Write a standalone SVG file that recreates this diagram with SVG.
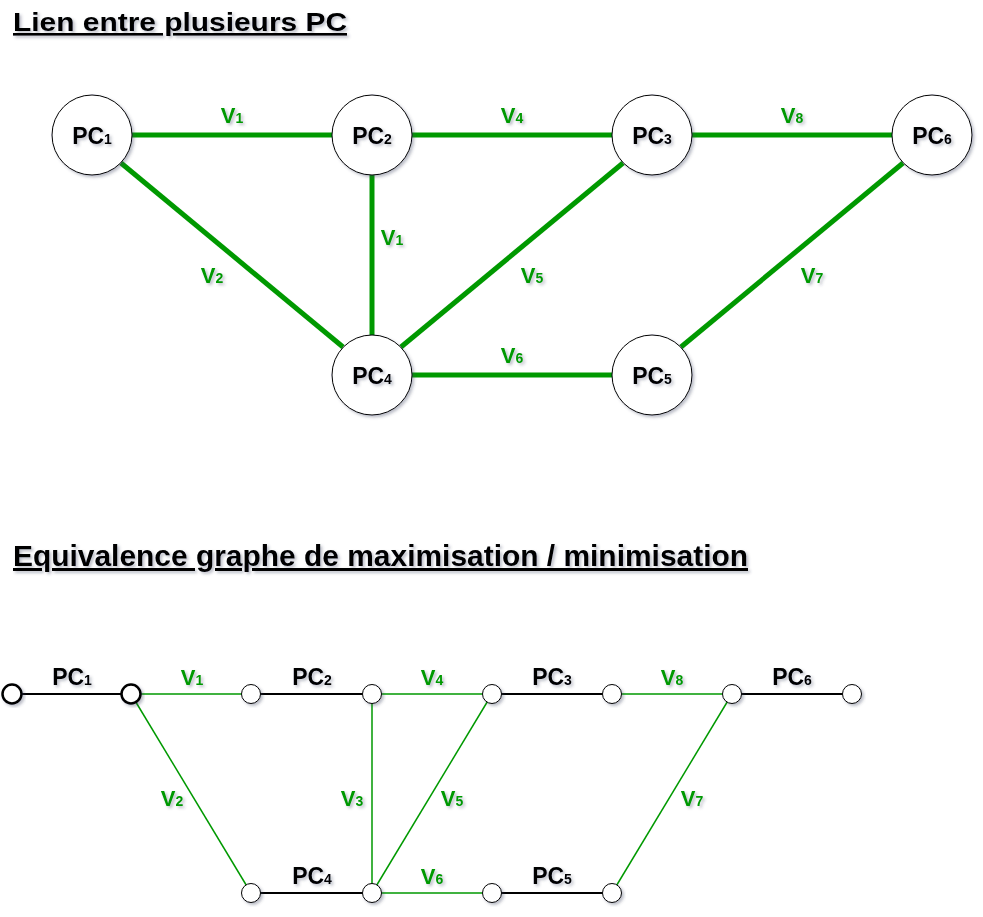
<svg xmlns="http://www.w3.org/2000/svg" width="983" height="917" viewBox="0 0 983 917">
<defs>
<filter id="sh" x="-20%" y="-20%" width="140%" height="140%">
<feDropShadow dx="2" dy="2" stdDeviation="1.5" flood-color="#3a4060" flood-opacity="0.35"/>
</filter>
<style>
text{font-family:"Liberation Sans",Arial,sans-serif;font-weight:bold;filter:url(#sh)}
.title{font-size:26px;fill:#000;text-decoration:underline}
.t2{font-size:30px}
.pc{font-size:23px;fill:#000;text-anchor:middle}
.v{font-size:22px;fill:#009900;text-anchor:middle}
.sub{font-size:14px}
.big{fill:#fff;stroke:#000;stroke-width:1;filter:url(#sh)}
.sm{fill:#fff;stroke:#000;stroke-width:1;filter:url(#sh)}
.smb{fill:#fff;stroke:#000;stroke-width:2.5;filter:url(#sh)}
.g{stroke:#009900;stroke-width:5;fill:none}
.gt{stroke:#009900;stroke-width:1.5;fill:none}
.k{stroke:#000;stroke-width:2;fill:none}
</style>
</defs>
<rect width="983" height="917" fill="#fff"/>
<text class="title" x="13" y="31" textLength="334" lengthAdjust="spacingAndGlyphs">Lien entre plusieurs PC</text>
<text class="title t2" x="13" y="566" textLength="735" lengthAdjust="spacingAndGlyphs">Equivalence graphe de maximisation / minimisation</text>

<g id="connectors-top">
<line class="g" x1="132" y1="135" x2="332" y2="135"/>
<line class="g" x1="412" y1="135" x2="612" y2="135"/>
<line class="g" x1="692" y1="135" x2="892" y2="135"/>
<line class="g" x1="372" y1="175" x2="372" y2="335"/>
<line class="g" x1="121" y1="163" x2="343" y2="347"/>
<line class="g" x1="623" y1="163" x2="401" y2="347"/>
<line class="g" x1="903" y1="163" x2="681" y2="347"/>
<line class="g" x1="412" y1="375" x2="612" y2="375"/>
</g>
<g id="edge-labels-top">
<text class="v" x="232" y="123">V<tspan class="sub">1</tspan></text>
<text class="v" x="512" y="123">V<tspan class="sub">4</tspan></text>
<text class="v" x="792" y="123">V<tspan class="sub">8</tspan></text>
<text class="v" x="392" y="245">V<tspan class="sub">1</tspan></text>
<text class="v" x="212" y="283">V<tspan class="sub">2</tspan></text>
<text class="v" x="532" y="283">V<tspan class="sub">5</tspan></text>
<text class="v" x="812" y="283">V<tspan class="sub">7</tspan></text>
<text class="v" x="512" y="363">V<tspan class="sub">6</tspan></text>
</g>
<g id="PC1"><circle class="big" cx="92" cy="135" r="40"/><text class="pc" x="92" y="144">PC<tspan class="sub">1</tspan></text></g>
<g id="PC2"><circle class="big" cx="372" cy="135" r="40"/><text class="pc" x="372" y="144">PC<tspan class="sub">2</tspan></text></g>
<g id="PC3"><circle class="big" cx="652" cy="135" r="40"/><text class="pc" x="652" y="144">PC<tspan class="sub">3</tspan></text></g>
<g id="PC6"><circle class="big" cx="932" cy="135" r="40"/><text class="pc" x="932" y="144">PC<tspan class="sub">6</tspan></text></g>
<g id="PC4"><circle class="big" cx="372" cy="375" r="40"/><text class="pc" x="372" y="384">PC<tspan class="sub">4</tspan></text></g>
<g id="PC5"><circle class="big" cx="652" cy="375" r="40"/><text class="pc" x="652" y="384">PC<tspan class="sub">5</tspan></text></g>

<g id="connectors-bottom">
<line class="k" x1="12" y1="694" x2="131" y2="694"/>
<line class="k" x1="251" y1="694" x2="372" y2="694"/>
<line class="k" x1="492" y1="694" x2="612" y2="694"/>
<line class="k" x1="732" y1="694" x2="852" y2="694"/>
<line class="k" x1="251" y1="893" x2="372" y2="893"/>
<line class="k" x1="492" y1="893" x2="612" y2="893"/>
<line class="gt" x1="131" y1="694" x2="251" y2="694"/>
<line class="gt" x1="372" y1="694" x2="492" y2="694"/>
<line class="gt" x1="612" y1="694" x2="732" y2="694"/>
<line class="gt" x1="372" y1="893" x2="492" y2="893"/>
<line class="gt" x1="131" y1="694" x2="251" y2="893"/>
<line class="gt" x1="372" y1="694" x2="372" y2="893"/>
<line class="gt" x1="492" y1="694" x2="372" y2="893"/>
<line class="gt" x1="732" y1="694" x2="612" y2="893"/>
</g>
<g id="labels-bottom">
<text class="pc" x="72" y="685">PC<tspan class="sub">1</tspan></text>
<text class="v" x="192" y="685">V<tspan class="sub">1</tspan></text>
<text class="pc" x="312" y="685">PC<tspan class="sub">2</tspan></text>
<text class="v" x="432" y="685">V<tspan class="sub">4</tspan></text>
<text class="pc" x="552" y="685">PC<tspan class="sub">3</tspan></text>
<text class="v" x="672" y="685">V<tspan class="sub">8</tspan></text>
<text class="pc" x="792" y="685">PC<tspan class="sub">6</tspan></text>
<text class="v" x="172" y="806">V<tspan class="sub">2</tspan></text>
<text class="v" x="352" y="806">V<tspan class="sub">3</tspan></text>
<text class="v" x="452" y="806">V<tspan class="sub">5</tspan></text>
<text class="v" x="692" y="806">V<tspan class="sub">7</tspan></text>
<text class="pc" x="312" y="884">PC<tspan class="sub">4</tspan></text>
<text class="v" x="432" y="884">V<tspan class="sub">6</tspan></text>
<text class="pc" x="552" y="884">PC<tspan class="sub">5</tspan></text>
</g>
<g id="n1"><circle class="smb" cx="12" cy="694" r="9.5"/></g>
<g id="n2"><circle class="smb" cx="131" cy="694" r="9.5"/></g>
<g id="n3"><circle class="sm" cx="251" cy="694" r="9.5"/></g>
<g id="n4"><circle class="sm" cx="372" cy="694" r="9.5"/></g>
<g id="n5"><circle class="sm" cx="492" cy="694" r="9.5"/></g>
<g id="n6"><circle class="sm" cx="612" cy="694" r="9.5"/></g>
<g id="n7"><circle class="sm" cx="732" cy="694" r="9.5"/></g>
<g id="n8"><circle class="sm" cx="852" cy="694" r="9.5"/></g>
<g id="n9"><circle class="sm" cx="251" cy="893" r="9.5"/></g>
<g id="n10"><circle class="sm" cx="372" cy="893" r="9.5"/></g>
<g id="n11"><circle class="sm" cx="492" cy="893" r="9.5"/></g>
<g id="n12"><circle class="sm" cx="612" cy="893" r="9.5"/></g>
</svg>
